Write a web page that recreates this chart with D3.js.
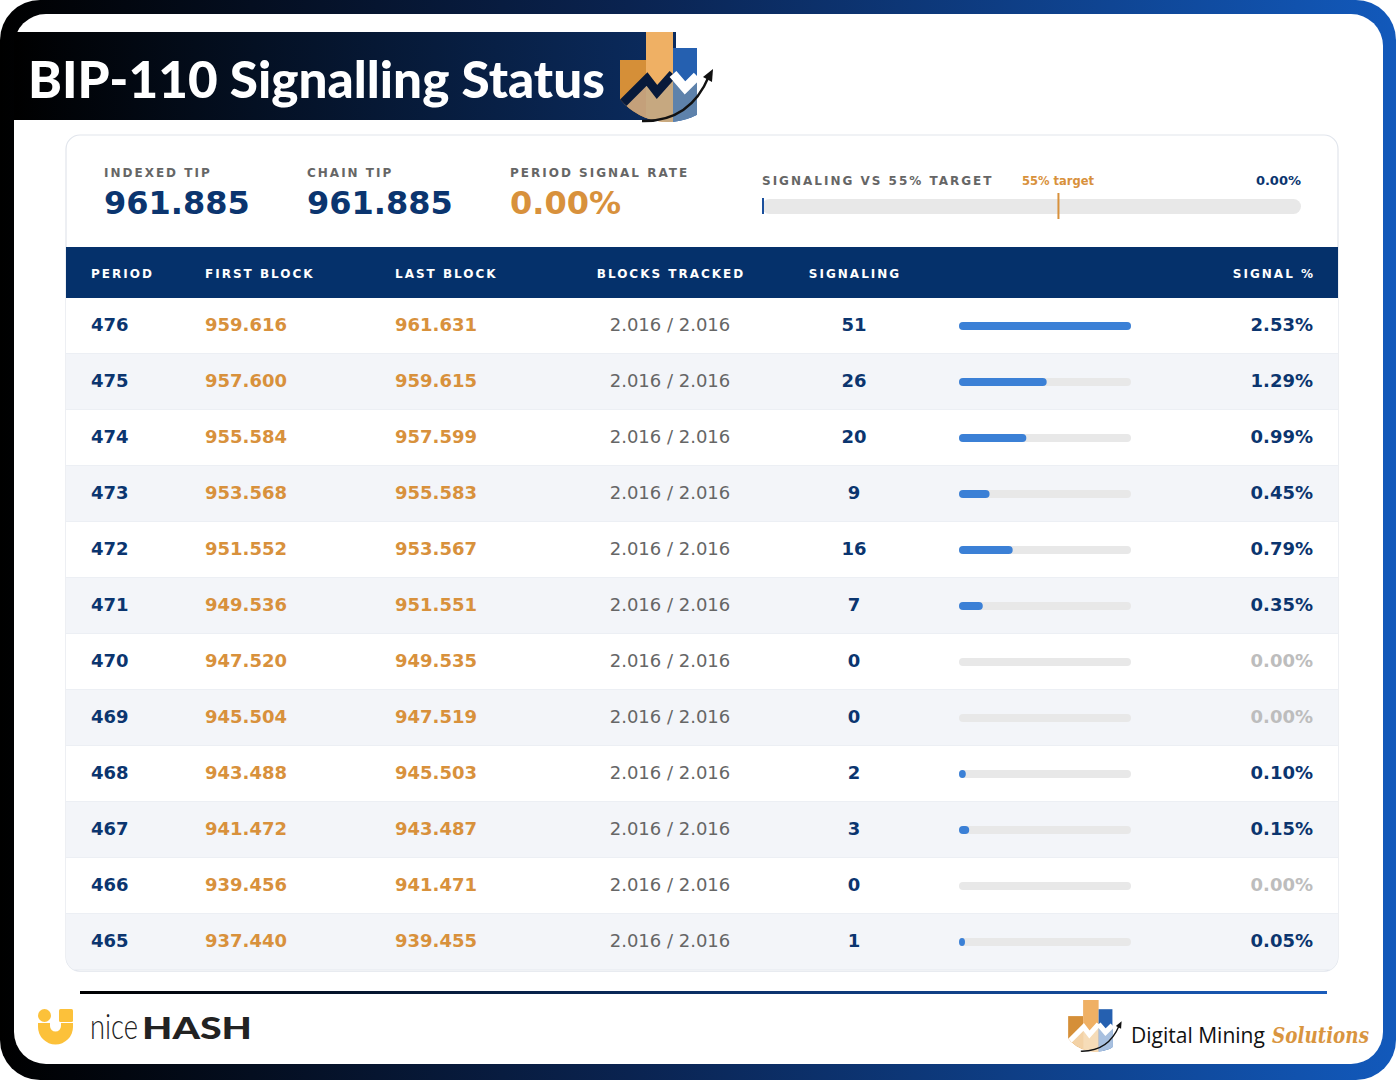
<!DOCTYPE html>
<html>
<head>
<meta charset="utf-8">
<script src="https://cdn.jsdelivr.net/npm/d3@7"></script>
<style>
  html, body { margin: 0; padding: 0; background: #fff; }
  svg { display: block; }
</style>
</head>
<body>
<div id="chart"></div>
<script>
/// DATA
var periods = [476, 475, 474, 473, 472, 471, 470, 469, 468, 467, 466, 465];
var firstBlocks = [959616, 957600, 955584, 953568, 951552, 949536, 947520, 945504, 943488, 941472, 939456, 937440];
var lastBlocks = [961631, 959615, 957599, 955583, 953567, 951551, 949535, 947519, 945503, 943487, 941471, 939455];
var blocksTracked = [2016, 2016, 2016, 2016, 2016, 2016, 2016, 2016, 2016, 2016, 2016, 2016];
var blocksPerPeriod = [2016, 2016, 2016, 2016, 2016, 2016, 2016, 2016, 2016, 2016, 2016, 2016];
var signaling = [51, 26, 20, 9, 16, 7, 0, 0, 2, 3, 0, 1];
var signalPct = [2.53, 1.29, 0.99, 0.45, 0.79, 0.35, 0.00, 0.00, 0.10, 0.15, 0.00, 0.05];

var summaryLabels = ["INDEXED TIP", "CHAIN TIP", "PERIOD SIGNAL RATE"];
var summaryValues = [961885, 961885, 0.00];
var targetPct = 55;
var currentPct = 0.00;

var columnLabels = ["PERIOD", "FIRST BLOCK", "LAST BLOCK", "BLOCKS TRACKED", "SIGNALING", "SIGNAL %"];

var W = 1396, H = 1080;
var NAVY = "#0b356f", HEADBG = "#05316b", ORANGE = "#d8913c", GREY = "#666666", BLUE = "#3b80d6", TRACK = "#e8e8e8";
var MONO = "'DejaVu Sans', sans-serif";

var deFmt = d3.formatLocale({decimal: ",", thousands: ".", grouping: [3], currency: ["", ""]}).format(",");
var pctFmt = d3.format(".2f");

var rows = periods.map(function(p, i) {
  return {period: p, first: firstBlocks[i], last: lastBlocks[i], tracked: blocksTracked[i],
          total: blocksPerPeriod[i], sig: signaling[i], pct: signalPct[i]};
});

var svg = d3.select("#chart").append("svg")
    .attr("width", W).attr("height", H)
    .attr("viewBox", "0 0 " + W + " " + H);

var defs = svg.append("defs");

function linGrad(id, stops) {
  var g = defs.append("linearGradient").attr("id", id)
      .attr("x1", "0%").attr("x2", "100%").attr("y1", "0%").attr("y2", "0%");
  stops.forEach(function(s) {
    g.append("stop").attr("offset", s[0]).attr("stop-color", s[1]);
  });
}
linGrad("frameGrad", [["0%", "#000000"], ["45%", "#0a2350"], ["100%", "#1259bb"]]);
linGrad("bannerGrad", [["0%", "#000000"], ["100%", "#0b2c60"]]);
linGrad("ruleGrad", [["0%", "#000000"], ["50%", "#0b2f66"], ["100%", "#1a5cbb"]]);

// squeeze a text horizontally so it fills exactly w pixels
function fitText(sel, x, w) {
  var natural = sel.node().getComputedTextLength();
  sel.attr("x", 0).attr("transform", "translate(" + x + ",0) scale(" + (w / natural) + ",1)");
}

///FRAME
svg.append("rect").attr("x", 0).attr("y", 0).attr("width", W).attr("height", H)
    .attr("rx", 40).attr("fill", "url(#frameGrad)");
svg.append("rect").attr("x", 14).attr("y", 14).attr("width", 1369).attr("height", 1050)
    .attr("rx", 32).attr("fill", "#ffffff");

///TITLE BANNER
svg.append("rect").attr("x", 14).attr("y", 32).attr("width", 662).attr("height", 88)
    .attr("fill", "url(#bannerGrad)");
var title = svg.append("text")
    .attr("y", 98)
    .attr("font-family", "Lato, 'Open Sans', sans-serif")
    .attr("font-weight", 900).attr("font-size", 52)
    .attr("fill", "#ffffff")
    .text("BIP-110 Signalling Status");
fitText(title, 28, 577);

// little bar/zigzag logo, drawn in a 96x90 box
var iconCount = 0;
function drawIcon(tx, ty, s, zig, lowColors) {
  var id = "ic" + (iconCount++);
  defs.append("clipPath").attr("id", id + "c")
    .append("circle").attr("cx", 50).attr("cy", 28).attr("r", 62);
  defs.append("clipPath").attr("id", id + "l")
    .append("polygon").attr("points", "0,78 29,49 39,62 55,44 67,58 79,46 79,95 0,95");

  var g = svg.append("g").attr("transform", "translate(" + tx + "," + ty + ") scale(" + s + ")");
  var inner = g.append("g").attr("clip-path", "url(#" + id + "c)");
  var bars = [[2, 28, 28, "#d58f38"], [28, 55, 0, "#efb064"], [55, 79, 16, "#2560b0"]];
  inner.selectAll("rect.top").data(bars).enter().append("rect")
      .attr("x", function(d) { return d[0]; }).attr("y", function(d) { return d[2]; })
      .attr("width", function(d) { return d[1] - d[0]; }).attr("height", function(d) { return 95 - d[2]; })
      .attr("fill", function(d) { return d[3]; });
  var low = inner.append("g").attr("clip-path", "url(#" + id + "l)");
  low.selectAll("rect").data(bars).enter().append("rect")
      .attr("x", function(d) { return d[0]; }).attr("y", 0)
      .attr("width", function(d) { return d[1] - d[0]; }).attr("height", 95)
      .attr("fill", function(d, i) { return lowColors[i]; });
  inner.append("polyline")
      .attr("points", "0,76 29,47 39,60 55,42")
      .attr("fill", "none").attr("stroke", zig[0]).attr("stroke-width", 9);
  inner.append("polyline")
      .attr("points", "55,42 67,56 79,44")
      .attr("fill", "none").attr("stroke", zig[1]).attr("stroke-width", 9);
  g.append("path")
      .attr("d", "M24,89 Q72,90 91,44")
      .attr("fill", "none").attr("stroke", "#111").attr("stroke-width", 2.4);
  g.append("polygon").attr("points", "95,37 94,50 85,45").attr("fill", "#111");
}
drawIcon(618, 32, 1.0, ["#07193a", "#ffffff"], ["#c4a07a", "#c6a880", "#5e82ab"]);

///SUMMARY CARD
var card = svg.append("g");
defs.append("clipPath").attr("id", "cardClip")
  .append("rect").attr("x", 66).attr("y", 135).attr("width", 1272).attr("height", 836).attr("rx", 14);
card.append("rect").attr("x", 66).attr("y", 136).attr("width", 1272).attr("height", 836).attr("rx", 14)
    .attr("fill", "#eef1f5");
card.append("rect").attr("x", 66).attr("y", 135).attr("width", 1272).attr("height", 836).attr("rx", 14)
    .attr("fill", "#ffffff").attr("stroke", "#e1e5ec").attr("stroke-width", 1.2);

var summaryX = d3.scalePoint().domain(summaryLabels).range([104, 510]);
var summary = card.selectAll("g.sum").data(summaryLabels).enter().append("g")
    .attr("transform", function(d) { return "translate(" + summaryX(d) + ",0)"; });
summary.append("text")
    .attr("y", 177).attr("font-family", MONO).attr("font-weight", "bold")
    .attr("font-size", 12).attr("letter-spacing", 2).attr("fill", GREY)
    .text(function(d) { return d; });
summary.append("text")
    .attr("y", 214).attr("font-family", MONO).attr("font-weight", "bold")
    .attr("font-size", 32)
    .attr("fill", function(d, i) { return i == 2 ? ORANGE : NAVY; })
    .text(function(d, i) { return i == 2 ? pctFmt(summaryValues[i]) + "%" : deFmt(summaryValues[i]); });

// signaling vs target gauge
var gx = d3.scaleLinear().domain([0, 100]).range([762, 1301]);
card.append("text").attr("x", 762).attr("y", 185)
    .attr("font-family", MONO).attr("font-weight", "bold").attr("font-size", 12)
    .attr("letter-spacing", 2).attr("fill", GREY)
    .text("SIGNALING VS " + targetPct + "% TARGET");
card.append("text").attr("x", 1022).attr("y", 185)
    .attr("font-family", MONO).attr("font-weight", "bold").attr("font-size", 11.5)
    .attr("fill", ORANGE).text(targetPct + "% target");
card.append("text").attr("x", gx(100)).attr("y", 185).attr("text-anchor", "end")
    .attr("font-family", MONO).attr("font-weight", "bold").attr("font-size", 13)
    .attr("fill", NAVY).text(pctFmt(currentPct) + "%");
card.append("rect").attr("x", gx(0)).attr("y", 199).attr("width", gx(100) - gx(0)).attr("height", 15)
    .attr("rx", 7.5).attr("fill", TRACK);
card.append("rect").attr("x", gx(currentPct)).attr("y", 198).attr("width", 2).attr("height", 16)
    .attr("fill", "#1b4f9c");
card.append("rect").attr("x", gx(targetPct) - 1).attr("y", 193).attr("width", 2).attr("height", 26)
    .attr("fill", ORANGE);

///TABLE
var tableG = card.append("g").attr("clip-path", "url(#cardClip)");
tableG.append("rect").attr("x", 66).attr("y", 247).attr("width", 1272).attr("height", 51)
    .attr("fill", HEADBG);

var colX = [91, 205, 395, 670, 854, 1315];
var colAnchor = ["start", "start", "start", "middle", "middle", "end"];
tableG.selectAll("text.head").data(columnLabels).enter().append("text")
    .attr("class", "head")
    .attr("x", function(d, i) { return colX[i] + (colAnchor[i] == "middle" ? 1 : 0); })
    .attr("y", 277.5)
    .attr("text-anchor", function(d, i) { return colAnchor[i]; })
    .attr("font-family", MONO).attr("font-weight", "bold").attr("font-size", 12)
    .attr("letter-spacing", 2).attr("fill", "#ffffff")
    .text(function(d) { return d; });

var y = d3.scaleBand().domain(periods).range([298, 970]).padding(0);
var bx = d3.scaleLinear().domain([0, d3.max(signalPct)]).range([959, 1131]);

var row = tableG.selectAll("g.row").data(rows).enter().append("g")
    .attr("class", "row")
    .attr("transform", function(d) { return "translate(0," + y(d.period) + ")"; });

row.append("rect").attr("x", 66).attr("y", 0).attr("width", 1272).attr("height", y.bandwidth())
    .attr("fill", function(d, i) { return i % 2 ? "#f3f5f9" : "#ffffff"; });
row.append("rect").attr("x", 66).attr("y", y.bandwidth() - 1).attr("width", 1272).attr("height", 1)
    .attr("fill", "#eceff4");

var mid = y.bandwidth() / 2;
var ty = mid + 5;

row.append("text").attr("x", colX[0]).attr("y", ty)
    .attr("font-family", MONO).attr("font-weight", "bold").attr("font-size", 18).attr("fill", NAVY)
    .text(function(d) { return d.period; });
row.append("text").attr("x", colX[1]).attr("y", ty)
    .attr("font-family", MONO).attr("font-weight", "bold").attr("font-size", 18).attr("fill", ORANGE)
    .text(function(d) { return deFmt(d.first); });
row.append("text").attr("x", colX[2]).attr("y", ty)
    .attr("font-family", MONO).attr("font-weight", "bold").attr("font-size", 18).attr("fill", ORANGE)
    .text(function(d) { return deFmt(d.last); });
row.append("text").attr("x", colX[3]).attr("y", ty).attr("text-anchor", "middle")
    .attr("font-family", MONO).attr("font-size", 18).attr("fill", GREY)
    .text(function(d) { return deFmt(d.tracked) + " / " + deFmt(d.total); });
row.append("text").attr("x", colX[4]).attr("y", ty).attr("text-anchor", "middle")
    .attr("font-family", MONO).attr("font-weight", "bold").attr("font-size", 18).attr("fill", NAVY)
    .text(function(d) { return d.sig; });

row.append("rect").attr("x", bx(0)).attr("y", mid - 4).attr("width", bx.range()[1] - bx(0)).attr("height", 8)
    .attr("rx", 4).attr("fill", TRACK);
row.filter(function(d) { return d.pct > 0; }).append("rect")
    .attr("x", bx(0)).attr("y", mid - 4)
    .attr("width", function(d) { return Math.max(bx(d.pct) - bx(0), 6); })
    .attr("height", 8).attr("rx", 4).attr("fill", BLUE);

row.append("text").attr("x", 1313).attr("y", ty).attr("text-anchor", "end")
    .attr("font-family", MONO).attr("font-weight", "bold").attr("font-size", 18)
    .attr("fill", function(d) { return d.pct > 0 ? NAVY : "#bdbdbd"; })
    .text(function(d) { return pctFmt(d.pct) + "%"; });

///FOOTER
svg.append("rect").attr("x", 80).attr("y", 991).attr("width", 1247).attr("height", 3)
    .attr("fill", "url(#ruleGrad)");

// nicehash mark
var nh = svg.append("g");
nh.append("circle").attr("cx", 44.5).attr("cy", 1015.5).attr("r", 6.5).attr("fill", "#fcc13a");
nh.append("rect").attr("x", 59).attr("y", 1009).attr("width", 14).attr("height", 13).attr("rx", 1.5).attr("fill", "#fcc13a");
nh.append("path")
    .attr("d", "M38,1023 H50 V1026 A5.5,5.5 0 0 0 61,1026 V1023 H73 V1027 A17.5,17.5 0 0 1 38,1027 Z")
    .attr("fill", "#fcc13a");
var nice = nh.append("text").attr("y", 1039)
    .attr("font-family", "Lato, sans-serif").attr("font-weight", 300).attr("font-size", 35)
    .attr("fill", "#222").text("nice");
fitText(nice, 90, 48);
var hash = nh.append("text").attr("y", 1039)
    .attr("font-family", "Lato, sans-serif").attr("font-weight", 900).attr("font-size", 31)
    .attr("fill", "#222").text("HASH");
fitText(hash, 142, 110);

// digital mining solutions mark
drawIcon(1067, 1000, 0.575, ["#ffffff", "#ffffff"], ["#f3d2a6", "#f6dcb8", "#a8c0df"]);
var dm = svg.append("text").attr("y", 1043)
    .attr("font-family", "'Open Sans', 'Noto Sans', sans-serif").attr("font-size", 22)
    .attr("fill", "#111").text("Digital Mining");
fitText(dm, 1131, 134);
var sol = svg.append("text").attr("y", 1043)
    .attr("font-family", "'DejaVu Serif', serif").attr("font-style", "italic").attr("font-weight", "bold")
    .attr("font-size", 22).attr("fill", "#d9953f").text("Solutions");
fitText(sol, 1272, 97);
</script>
</body>
</html>
